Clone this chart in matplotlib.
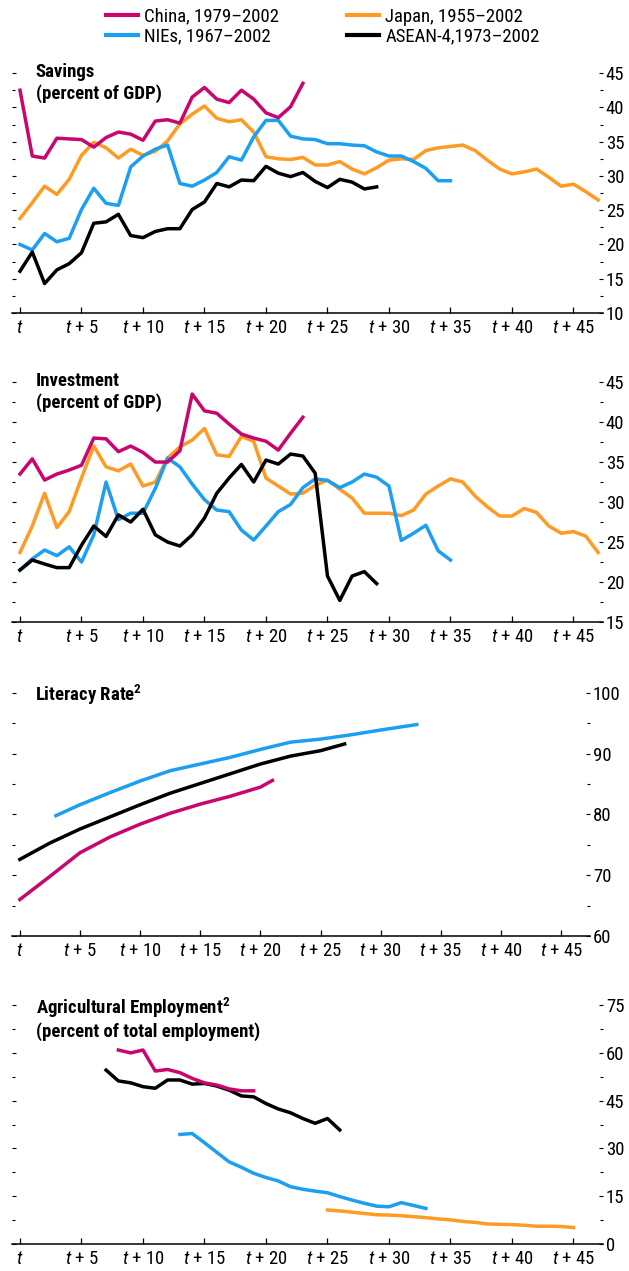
#!/usr/bin/env python3
"""Savings, investment, literacy and agricultural employment paths for
China, Japan, the NIEs and ASEAN-4, aligned on a common start year t.

Four stacked panels, right-hand value axis, shared legend on top.
"""
import matplotlib
matplotlib.use("Agg")
import matplotlib.pyplot as plt
from matplotlib.ticker import MultipleLocator

FONT = ["Roboto Condensed", "DejaVu Sans"]
plt.rcParams["font.family"] = FONT
plt.rcParams["mathtext.fontset"] = "custom"
plt.rcParams["mathtext.rm"] = "Roboto Condensed"
plt.rcParams["mathtext.it"] = "Roboto Condensed:italic"
plt.rcParams["mathtext.bf"] = "Roboto Condensed:bold"

# ---- series labels / colours -------------------------------------------
LABELS = {
    "china": "China, 1979\u20132002",
    "japan": "Japan, 1955\u20132002",
    "nies": "NIEs, 1967\u20132002",
    "asean": "ASEAN-4,1973\u20132002",
}
COLORS = {"china": "#C8066E", "japan": "#FF9A22", "nies": "#1C9EF2", "asean": "#000000"}

XTICKS = [0, 5, 10, 15, 20, 25, 30, 35, 40, 45]
XTICK_LABELS = [r"$t$", r"$t$ + 5", r"$t$ + 10", r"$t$ + 15", r"$t$ + 20",
                r"$t$ + 25", r"$t$ + 30", r"$t$ + 35", r"$t$ + 40", r"$t$ + 45"]

# ---- savings (percent of GDP), one value per year from t ---------------
sav_china = [42.5, 32.9, 32.6, 35.5, 35.4, 35.3, 34.2, 35.6, 36.4, 36.1, 35.2, 38.0,
             38.2, 37.7, 41.5, 42.9, 41.2, 40.7, 42.5, 41.2, 39.2, 38.5, 40.1, 43.5]
sav_japan = [23.8, 26.1, 28.5, 27.3, 29.5, 33.0, 34.9, 34.1, 32.6, 33.9, 33.0, 33.6,
             35.1, 37.6, 39.0, 40.2, 38.4, 37.9, 38.2, 36.4, 32.8, 32.5, 32.4, 32.7,
             31.6, 31.6, 32.1, 31.0, 30.3, 31.2, 32.3, 32.5, 32.4, 33.7, 34.1, 34.3,
             34.5, 33.7, 32.3, 31.0, 30.3, 30.6, 31.0, 29.8, 28.5, 28.8, 27.7, 26.5]
sav_nies = [20.0, 19.2, 21.6, 20.4, 20.9, 25.1, 28.2, 26.0, 25.7, 31.3, 32.9, 33.9,
            34.5, 28.9, 28.5, 29.4, 30.5, 32.8, 32.3, 35.7, 38.1, 38.1, 35.8, 35.4,
            35.3, 34.7, 34.7, 34.5, 34.4, 33.5, 32.9, 32.9, 32.1, 31.1, 29.3, 29.3]
sav_asean = [16.1, 18.9, 14.3, 16.3, 17.2, 18.8, 23.1, 23.3, 24.4, 21.3, 21.0, 21.9,
             22.3, 22.3, 25.1, 26.2, 28.9, 28.4, 29.4, 29.3, 31.4, 30.4, 29.9, 30.5,
             29.2, 28.3, 29.5, 29.1, 28.1, 28.4]

# ---- investment (percent of GDP) ---------------------------------------
inv_china = [33.5, 35.4, 32.75, 33.5, 34.0, 34.6, 38.0, 37.9, 36.3, 37.0, 36.2, 35.0,
             35.0, 36.4, 43.5, 41.4, 41.1, 39.75, 38.5, 38.0, 37.6, 36.5, 38.6, 40.6]
inv_japan = [23.7, 27.0, 31.1, 26.8, 28.8, 33.0, 37.0, 34.4, 33.9, 34.75, 32.0, 32.5,
             35.5, 36.9, 37.75, 39.2, 35.9, 35.7, 38.2, 37.6, 33.0, 32.0, 31.0, 31.1,
             32.1, 32.75, 31.6, 30.5, 28.6, 28.6, 28.6, 28.3, 29.0, 31.0, 32.0, 32.9,
             32.5, 30.75, 29.4, 28.25, 28.25, 29.2, 28.7, 27.0, 26.1, 26.3, 25.75, 23.7]
inv_nies = [21.5, 22.9, 24.0, 23.3, 24.4, 22.5, 25.9, 32.5, 27.8, 28.6, 28.6, 31.7,
            35.5, 34.4, 32.25, 30.3, 29.0, 28.8, 26.5, 25.25, 27.0, 28.8, 29.7, 31.8,
            32.9, 32.7, 31.8, 32.5, 33.5, 33.1, 32.0, 25.2, 26.1, 27.1, 23.9, 22.75]
inv_asean = [21.5, 22.75, 22.25, 21.8, 21.8, 24.6, 27.0, 25.7, 28.4, 27.5, 29.1, 25.9,
             25.0, 24.5, 25.9, 28.0, 31.1, 33.0, 34.7, 32.5, 35.25, 34.75, 36.0, 35.75,
             33.6, 20.75, 17.7, 20.75, 21.3, 19.8]

# ---- literacy rate -----------------------------------------------------
lit_china_x = [0, 2.5, 5, 7.5, 10, 12.5, 15, 17.5, 20, 21]
lit_china = [66.0, 69.8, 73.7, 76.3, 78.4, 80.2, 81.7, 83.0, 84.5, 85.6]
lit_nies_x = [3, 5, 7.5, 10, 12.5, 15, 17.5, 20, 22.5, 25, 27.5, 30, 33]
lit_nies = [79.8, 81.6, 83.6, 85.5, 87.2, 88.3, 89.4, 90.7, 91.9, 92.4, 93.1, 93.9, 94.8]
lit_asean_x = [0, 2.5, 5, 7.5, 10, 12.5, 15, 17.5, 20, 22.5, 25, 27]
lit_asean = [72.6, 75.3, 77.6, 79.6, 81.6, 83.5, 85.1, 86.7, 88.3, 89.6, 90.5, 91.6]

# ---- agricultural employment (percent of total employment) -------------
agr_china_x0 = 8
agr_china = [60.9, 60.0, 60.9, 54.3, 54.8, 53.8, 52.0, 50.6, 49.9, 48.7, 48.1, 48.1]
agr_asean_x0 = 7
agr_asean = [54.6, 51.2, 50.6, 49.4, 48.9, 51.5, 51.5, 50.2, 50.4, 49.6, 48.3, 46.5,
             46.2, 44.1, 42.4, 41.2, 39.4, 37.9, 39.4, 35.8]
agr_nies_x0 = 13
agr_nies = [34.4, 34.7, 31.8, 28.8, 25.8, 24.1, 22.2, 20.9, 19.8, 18.0, 17.2, 16.6,
            16.1, 14.9, 13.8, 12.8, 11.9, 11.7, 13.0, 12.1, 11.2]
agr_japan_x0 = 25
agr_japan = [10.7, 10.4, 10.0, 9.6, 9.2, 9.1, 8.9, 8.6, 8.3, 7.9, 7.6, 7.1, 6.8, 6.3,
             6.2, 6.1, 5.9, 5.6, 5.6, 5.5, 5.2]

LW = 2.5
FS = 13.5


def years(vals, start=0):
    return list(range(start, start + len(vals)))


def style_axes(ax, ylim, major, minor, title):
    ax.set_xlim(-0.65, 47.4)
    ax.set_ylim(*ylim)
    for side in ("left", "top", "right"):
        ax.spines[side].set_visible(False)
    ax.spines["bottom"].set_linewidth(1.1)
    ax.set_xticks(XTICKS)
    ax.set_xticklabels(XTICK_LABELS)
    ax.tick_params(axis="x", direction="in", length=4.5, width=0.9, pad=4, labelsize=FS)
    ax.yaxis.set_major_locator(MultipleLocator(major))
    ax.yaxis.set_minor_locator(MultipleLocator(minor))
    ax.yaxis.set_ticks_position("both")
    ax.tick_params(axis="y", which="both", direction="in", left=True, right=True,
                   labelleft=False, labelright=True, labelsize=FS, pad=2, width=0.8)
    ax.tick_params(axis="y", which="major", length=3)
    ax.tick_params(axis="y", which="minor", length=2)
    ax.text(0.04, 1.04, title, transform=ax.transAxes, ha="left", va="top",
            fontsize=FS, fontweight="bold", linespacing=1.2)


def main() -> None:
    fig = plt.figure(figsize=(6.29, 12.71), dpi=100)

    left = 12 / 629
    wide = 591 / 629
    narrow = 578 / 629
    ax_sav = fig.add_axes([left, 0.7537, wide, 0.1888])
    ax_inv = fig.add_axes([left, 0.5106, wide, 0.1888])
    ax_lit = fig.add_axes([left, 0.2636, narrow, 0.1912])
    ax_agr = fig.add_axes([left, 0.0212, wide, 0.1880])

    # savings
    ax_sav.plot(years(sav_japan), sav_japan, color=COLORS["japan"], lw=LW)
    ax_sav.plot(years(sav_nies), sav_nies, color=COLORS["nies"], lw=LW)
    ax_sav.plot(years(sav_asean), sav_asean, color=COLORS["asean"], lw=LW)
    ax_sav.plot(years(sav_china), sav_china, color=COLORS["china"], lw=LW)
    style_axes(ax_sav, (10, 45), 5, 2.5, "Savings\n(percent of GDP)")

    # investment
    ax_inv.plot(years(inv_japan), inv_japan, color=COLORS["japan"], lw=LW)
    ax_inv.plot(years(inv_nies), inv_nies, color=COLORS["nies"], lw=LW)
    ax_inv.plot(years(inv_asean), inv_asean, color=COLORS["asean"], lw=LW)
    ax_inv.plot(years(inv_china), inv_china, color=COLORS["china"], lw=LW)
    style_axes(ax_inv, (15, 45), 5, 2.5, "Investment\n(percent of GDP)")

    # literacy
    ax_lit.plot(lit_nies_x, lit_nies, color=COLORS["nies"], lw=LW)
    ax_lit.plot(lit_asean_x, lit_asean, color=COLORS["asean"], lw=LW)
    ax_lit.plot(lit_china_x, lit_china, color=COLORS["china"], lw=LW)
    style_axes(ax_lit, (60, 100), 10, 5, r"Literacy Rate$^{\mathbf{2}}$")

    # agricultural employment
    ax_agr.plot(years(agr_japan, agr_japan_x0), agr_japan, color=COLORS["japan"], lw=LW)
    ax_agr.plot(years(agr_nies, agr_nies_x0), agr_nies, color=COLORS["nies"], lw=LW)
    ax_agr.plot(years(agr_asean, agr_asean_x0), agr_asean, color=COLORS["asean"], lw=LW)
    ax_agr.plot(years(agr_china, agr_china_x0), agr_china, color=COLORS["china"], lw=LW)
    style_axes(ax_agr, (0, 75), 15, 7.5,
               "Agricultural Employment$^{\\mathbf{2}}$\n(percent of total employment)")

    # shared legend, column-major: China/NIEs, Japan/ASEAN-4
    order = ["china", "nies", "japan", "asean"]
    handles = [plt.Line2D([], [], color=COLORS[k], lw=3) for k in order]
    fig.legend(handles, [LABELS[k] for k in order], ncol=2, frameon=False,
               loc="upper left", bbox_to_anchor=(106 / 629, 0.994),
               borderpad=0, borderaxespad=0, fontsize=13.5, handlelength=1.7,
               handletextpad=0.35, labelspacing=0.1, columnspacing=3.6)

    fig.savefig("out.png", dpi=100)


if __name__ == "__main__":
    main()
